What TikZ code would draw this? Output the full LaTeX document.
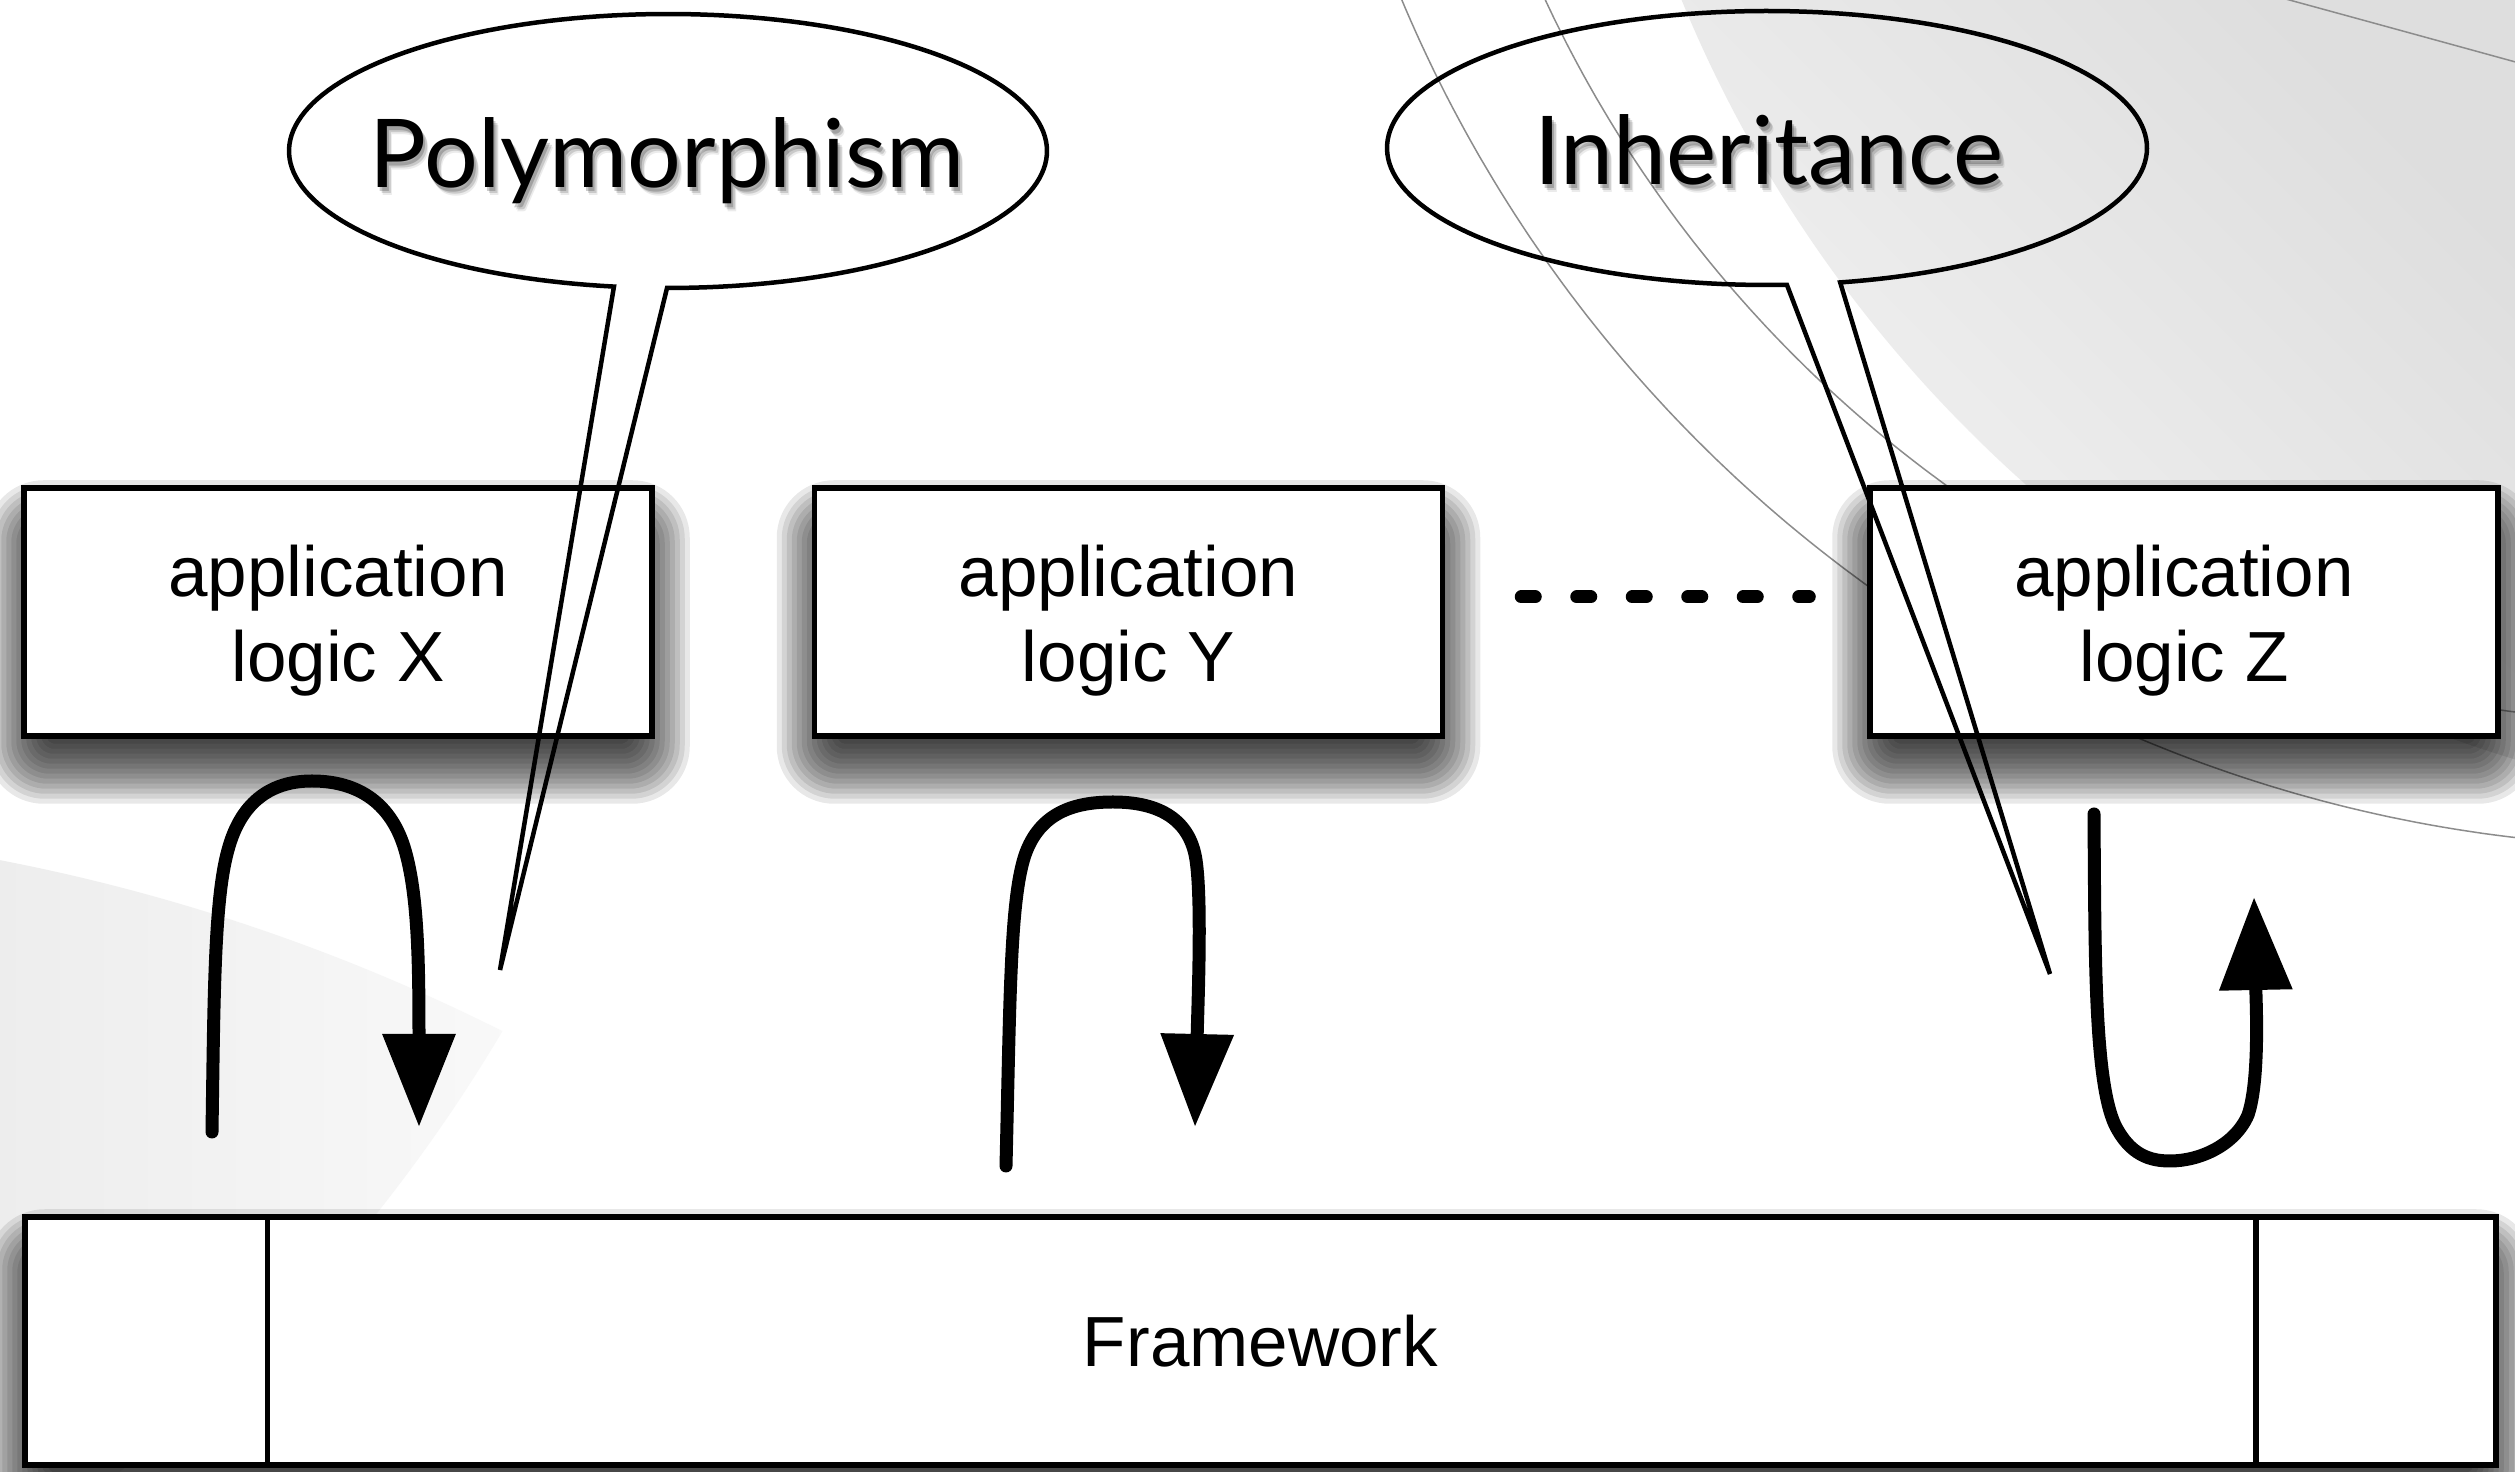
\documentclass[tikz,border=0pt]{standalone}
\usepackage{fontspec}
\setmainfont{Liberation Sans}
\newfontfamily\calloutfamily{Lato}
\usetikzlibrary{arrows.meta}
\newcommand\appfont{\fontsize{21.3pt}{25.6pt}\selectfont}
\newcommand\bubblefont{\calloutfamily\fontsize{28.5pt}{30pt}\selectfont}
% strut that lowers the two-line box labels a little
\newcommand\appstrut{\rule{0pt}{20.7pt}}

% soft drop shadow: stacked translucent rectangles under a node
\newcommand\softshadow[1]{%
  \foreach \e in {-10.5,-9,...,10.5}{%
    \pgfmathsetmacro\sr{0.8*(\e+11)}%
    \pgfmathsetmacro\ne{-1*(\e)}%
    \pgfmathsetmacro\yt{(\e)-9}%
    \pgfmathsetmacro\yb{-1*(\e)-9}%
    \fill[black, fill opacity=0.09, rounded corners=\sr pt]
      ([xshift=\ne pt, yshift=\yt pt]#1.north west) rectangle
      ([xshift=\e pt, yshift=\yb pt]#1.south east);
  }}

\pgfdeclarelayer{backdrop}
\pgfdeclarelayer{shadowlayer}
\pgfsetlayers{backdrop,shadowlayer,main}

\begin{document}
\begin{tikzpicture}[x=0.3pt, y=-0.3pt,
  appbox/.style={draw=black, fill=white, line width=1.65pt,
      minimum width=188.4pt, minimum height=74.4pt, inner sep=0pt,
      align=center, font=\appfont},
  fwbox/.style={draw=black, fill=white, line width=1.65pt,
      minimum width=741.3pt, minimum height=74.4pt, inner sep=0pt,
      font=\appfont},
  divider/.style={line width=1.65pt},
  bubble/.style={line width=1.35pt, line join=miter},
  bubbletext/.style={font=\bubblefont, inner sep=0pt, anchor=base},
  bubbleglow/.style={bubbletext, text=black},
  flow/.style={line width=3.9pt, line cap=round,
      -{Triangle[length=27.9pt, width=21pt]}},
  ellipsisline/.style={line width=3.9pt, line cap=round,
      dash pattern=on 4.2pt off 12.45pt},
  arcline/.style={line width=0.45pt, draw=black!45},
]
\useasboundingbox (0,0) rectangle (2515,1472);

\begin{pgfonlayer}{backdrop}
  \fill[white] (0,0) rectangle (2515,1472);
  % large grey disc in the upper right corner
  \begin{scope}
    \clip (0,0) rectangle (2515,1472);
    \clip (2900,-500) circle[radius=395pt];
    \shade[top color=black!13, bottom color=black!3, shading angle=-45]
      (1560,-20) rectangle (2530,840);
  \end{scope}
  % pale lens in the lower left corner
  \begin{scope}
    \clip (0,0) rectangle (2515,1472);
    \clip (-370,2770) circle[radius=583.5pt];
    \clip (-900,200) circle[radius=489pt];
    \shade[left color=black!7, right color=black!2] (0,800) rectangle (560,1472);
  \end{scope}
  % thin concentric arcs
  \begin{scope}
    \clip (0,0) rectangle (2515,1472);
    \draw[arcline] plot[domain=94:162, samples=120]
      ({2676+1382*cos(\x)},{-535+1382*sin(\x)});
    \draw[arcline] plot[domain=94:162, samples=120]
      ({2680+1252*cos(\x)},{-529+1252*sin(\x)});
    \draw[arcline] (2260,-8) .. controls (2370,22) and (2450,44) .. (2530,66);
  \end{scope}
\end{pgfonlayer}

% application boxes
\node[appbox] (X) at (338,612) {\appstrut application\\logic X};
\node[appbox] (Y) at (1128.5,612) {\appstrut application\\logic Y};
\node[appbox] (Z) at (2184,612) {\appstrut application\\logic Z};

% framework bar with its two end compartments
\node[fwbox] (F) at (1260.5,1341) {Framework};
\draw[divider] ([xshift=73.5pt]F.north west) -- ([xshift=73.5pt]F.south west);
\draw[divider] ([xshift=-72.9pt]F.north east) -- ([xshift=-72.9pt]F.south east);

\begin{pgfonlayer}{shadowlayer}
  \softshadow{X}
  \softshadow{Y}
  \softshadow{Z}
  \softshadow{F}
\end{pgfonlayer}

% ellipsis between the second and the last application
\coordinate (dotsA) at ([xshift=22.8pt, yshift=4.5pt]Y.east);
\coordinate (dotsB) at ([xshift=-17.4pt, yshift=4.5pt]Z.west);
\draw[ellipsisline] (dotsA) -- (dotsB);

% control flow between applications and framework
\draw[flow] (212,1132) .. controls (214,1000) and (214,900) .. (228,850)
  .. controls (240,805) and (268,781) .. (312,781)
  .. controls (360,781) and (392,805) .. (405,850)
  .. controls (418,895) and (419,960) .. (419,1127);
\draw[flow] (1006,1166) .. controls (1010,1000) and (1010,900) .. (1025,855)
  .. controls (1040,812) and (1075,802) .. (1113,802)
  .. controls (1160,802) and (1190,820) .. (1196,860)
  .. controls (1202,900) and (1198,1000) .. (1195,1127);
\draw[flow] (2094,814) .. controls (2095,950) and (2094,1080) .. (2115,1125)
  .. controls (2130,1155) and (2150,1161) .. (2170,1161)
  .. controls (2200,1161) and (2235,1145) .. (2248,1115)
  .. controls (2260,1080) and (2256,1000) .. (2254,897);

% speech bubbles
\coordinate (polytip) at (500,970);
\coordinate (inhtip) at (2050,974);
\draw[bubble] plot[domain=98.2:450.15, samples=180]
  ({668+379*cos(\x)},{151+137*sin(\x)}) -- (polytip) -- cycle;
\draw[bubble] plot[domain=87:438.9, samples=180]
  ({1767+380*cos(\x)},{148+137*sin(\x)}) -- (inhtip) -- cycle;

% soft drop shadow under the bubble captions
\foreach \dx/\dy/\op in {2/4/0.20, 4/6/0.14, 5/8/0.08} {
  \node[bubbleglow, text opacity=\op] at (667+\dx,188+\dy) {Polymorphism};
  \node[bubbleglow, text opacity=\op] at (1769+\dx,185+\dy) {Inheritance};
}
\node[bubbletext] (poly) at (667,188) {Polymorphism};
\node[bubbletext] (inh) at (1769,185) {Inheritance};
\end{tikzpicture}
\end{document}
